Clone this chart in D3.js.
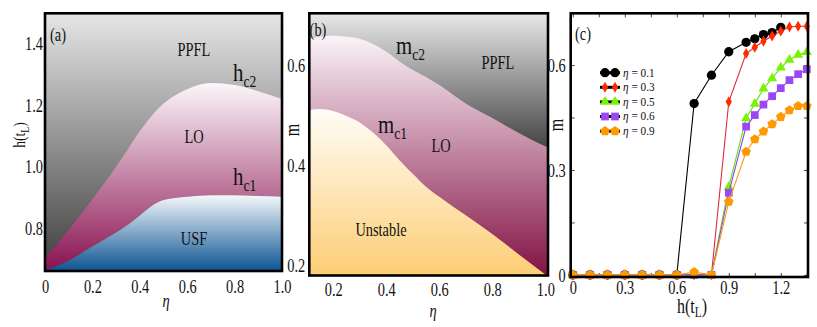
<!DOCTYPE html>
<html>
<head>
<meta charset="utf-8">
<script src="https://d3js.org/d3.v7.min.js"></script>
<style>
  body { margin: 0; background: #fff; }
  svg { display: block; }
</style>
</head>
<body>
<div id="chart"></div>
<script>
// ---- panel (a): phase boundaries h_c1, h_c2 vs eta
var etaA = [0, 0.1, 0.2, 0.3, 0.35, 0.4, 0.45, 0.5, 0.6, 0.7, 0.8, 0.9, 1.0];
var hc1 = [0.664, 0.695, 0.742, 0.787, 0.812, 0.842, 0.873, 0.892, 0.903, 0.908, 0.908, 0.905, 0.903];
var hc2 = [0.705, 0.795, 0.895, 1.0, 1.057, 1.115, 1.165, 1.205, 1.252, 1.272, 1.265, 1.245, 1.22];
var ticksAx = [0, 0.2, 0.4, 0.6, 0.8, 1.0];
var ticksAy = [0.8, 1.0, 1.2, 1.4];

// ---- panel (b): m_c1, m_c2 vs eta
var etaB = [0.11, 0.15, 0.2, 0.25, 0.3, 0.35, 0.4, 0.45, 0.5, 0.55, 0.6, 0.7, 0.8, 0.9, 1.0, 1.01];
var mc2 = [0.652, 0.656, 0.658, 0.656, 0.652, 0.642, 0.627, 0.607, 0.59, 0.576, 0.56, 0.523, 0.494, 0.464, 0.438, 0.436];
var mc1 = [0.51, 0.512, 0.508, 0.498, 0.485, 0.465, 0.44, 0.41, 0.383, 0.357, 0.337, 0.30, 0.263, 0.222, 0.182, 0.178];
var ticksBx = [0.2, 0.4, 0.6, 0.8, 1.0];
var ticksBy = [0.2, 0.4, 0.6];

// ---- panel (c): m vs h(t_L)
var hGrid = [0, 0.1, 0.2, 0.3, 0.4, 0.5, 0.6, 0.7, 0.8, 0.9, 1.0, 1.05, 1.1, 1.15, 1.2, 1.25, 1.3, 1.35];
var m01 = [0, 0, 0, 0, 0, 0, 0, 0.49, 0.571, 0.638, 0.665, 0.675, 0.687, 0.693, 0.708];
var m03 = [0, 0, 0, 0, 0, 0, 0, 0, 0, 0.495, 0.633, 0.651, 0.668, 0.683, 0.697, 0.709, 0.711, 0.711];
var m05 = [0, 0, 0, 0, 0, 0, 0, 0, 0, 0.252, 0.448, 0.489, 0.533, 0.562, 0.593, 0.615, 0.629, 0.637];
var m06 = [0, 0, 0, 0, 0, 0, 0, 0, 0, 0.235, 0.424, 0.457, 0.487, 0.511, 0.534, 0.557, 0.574, 0.588];
var m09 = [0, 0, 0, 0, 0, 0, 0, 0.008, 0, 0.209, 0.352, 0.388, 0.41, 0.431, 0.452, 0.471, 0.483, 0.483];
var seriesNames = ["\u03b7 = 0.1", "\u03b7 = 0.3", "\u03b7 = 0.5", "\u03b7 = 0.6", "\u03b7 = 0.9"];
var ticksCx = [0, 0.3, 0.6, 0.9, 1.2];
var ticksCy = [0, 0.3, 0.6];

var W = 817, H = 327;
var SERIF = "'Liberation Serif', 'DejaVu Serif', serif";
var SX = 0.8; // the original lettering is narrow

var svg = d3.select('#chart').append('svg').attr('width', W).attr('height', H);
svg.append('rect').attr('width', W).attr('height', H).attr('fill', '#fff');
var defs = svg.append('defs');

function vGrad(id, c0, c1, y0, y1) {
   var g = defs.append('linearGradient').attr('id', id)
      .attr('x1', 0).attr('x2', 0);
   if (y0 === undefined) {
      g.attr('y1', 0).attr('y2', 1);
   } else {
      g.attr('gradientUnits', 'userSpaceOnUse').attr('y1', y0).attr('y2', y1);
   }
   g.append('stop').attr('offset', 0).attr('stop-color', c0);
   g.append('stop').attr('offset', 1).attr('stop-color', c1);
}

function clip(id, x, y) {
   defs.append('clipPath').attr('id', id).append('rect')
      .attr('x', x.range()[0]).attr('y', y.range()[1])
      .attr('width', x.range()[1] - x.range()[0])
      .attr('height', y.range()[0] - y.range()[1]);
}

function frame(x, y) {
   svg.append('rect')
      .attr('x', x.range()[0]).attr('y', y.range()[1])
      .attr('width', x.range()[1] - x.range()[0])
      .attr('height', y.range()[0] - y.range()[1])
      .attr('fill', 'none').attr('stroke', '#000').attr('stroke-width', 2.6);
}

// text with optional subscript, narrowed like the original
function label(x, y, main, sub, size, subSize, anchor, rotate) {
   var t = svg.append('text')
      .attr('transform', 'translate(' + x + ',' + y + ')' + (rotate ? ' rotate(-90)' : '') + ' scale(' + SX + ',1)')
      .attr('font-family', SERIF).attr('font-size', size)
      .attr('text-anchor', anchor || 'start').attr('fill', '#111');
   t.append('tspan').text(main);
   if (sub) {
      t.append('tspan').attr('font-size', subSize).attr('dy', size * 0.22).text(sub);
   }
   return t;
}

function styleTicks(g, xOff, yOff, dy, size) {
   g.select('.domain').remove();
   g.selectAll('text')
      .attr('font-family', SERIF).attr('font-size', size || 18).attr('fill', '#111')
      .attr('x', xOff / SX).attr('y', yOff).attr('dy', dy)
      .attr('transform', 'scale(' + SX + ',1)');
}

var fmt = function (d) { return d === 0 ? '0' : d3.format('.1f')(d); };

/* ================= panel (a) ================= */
var xa = d3.scaleLinear().domain([0, 1]).range([45, 282]);
var ya = d3.scaleLinear().domain([0.662, 1.498]).range([271, 13.3]);
vGrad('aGray', '#e6e6e6', '#3e3e3e', 13, 271);
vGrad('aLO', '#fcf6fa', '#8a1250');
vGrad('aUSF', '#f4f8fb', '#0b5492');
clip('clipA', xa, ya);

var gA = svg.append('g').attr('clip-path', 'url(#clipA)');
gA.append('rect').attr('x', 45).attr('y', 13.3).attr('width', 237).attr('height', 258).attr('fill', 'url(#aGray)');
gA.append('path').datum(etaA)
   .attr('d', d3.area().curve(d3.curveMonotoneX)
      .x(function (d) { return xa(d); })
      .y0(function (d, i) { return ya(hc1[i]); })
      .y1(function (d, i) { return ya(hc2[i]); }))
   .attr('fill', 'url(#aLO)');
gA.append('path').datum(etaA)
   .attr('d', d3.area().curve(d3.curveMonotoneX)
      .x(function (d) { return xa(d); })
      .y0(ya.range()[0])
      .y1(function (d, i) { return ya(hc1[i]); }))
   .attr('fill', 'url(#aUSF)');

styleTicks(svg.append('g').attr('transform', 'translate(0,271)')
   .call(d3.axisBottom(xa).tickValues(ticksAx).tickFormat(fmt).tickSize(0)), 0, 22, 0);
styleTicks(svg.append('g').attr('transform', 'translate(45,0)')
   .call(d3.axisLeft(ya).tickValues(ticksAy).tickFormat(d3.format('.1f')).tickSize(0)), -2, 0, '0.34em');
frame(xa, ya);

label(58, 41, '(a)', null, 18, 0, 'middle');
label(194, 56, 'PPFL', null, 18, 0, 'middle');
label(194, 143, 'LO', null, 18, 0, 'middle');
label(194, 245, 'USF', null, 18, 0, 'middle');
label(233, 81, 'h', 'c2', 26, 17);
label(233, 185, 'h', 'c1', 26, 17);
label(166, 307, '\u03b7', null, 18, 0, 'middle').attr('font-style', 'italic');
label(25, 135, 'h(t', 'L', 17, 12, 'middle', true).append('tspan').attr('dy', -17 * 0.22).text(')');

/* ================= panel (b) ================= */
var xb = d3.scaleLinear().domain([0.11, 1.01]).range([309.3, 548]);
var yb = d3.scaleLinear().domain([0.18, 0.703]).range([275.5, 13.3]);
vGrad('bGray', '#e9e9e9', '#444', 13, 148);
vGrad('bLO', '#fbf3f8', '#831245');
vGrad('bUn', '#fffdf8', '#fdcd74');
clip('clipB', xb, yb);

var gB = svg.append('g').attr('clip-path', 'url(#clipB)');
gB.append('rect').attr('x', 309.3).attr('y', 13.3).attr('width', 239).attr('height', 263).attr('fill', 'url(#bGray)');
gB.append('path').datum(etaB)
   .attr('d', d3.area().curve(d3.curveMonotoneX)
      .x(function (d) { return xb(d); })
      .y0(yb.range()[0])
      .y1(function (d, i) { return yb(mc2[i]); }))
   .attr('fill', 'url(#bLO)');
gB.append('path').datum(etaB)
   .attr('d', d3.area().curve(d3.curveMonotoneX)
      .x(function (d) { return xb(d); })
      .y0(yb.range()[0])
      .y1(function (d, i) { return yb(mc1[i]); }))
   .attr('fill', 'url(#bUn)');

styleTicks(svg.append('g').attr('transform', 'translate(0,275.5)')
   .call(d3.axisBottom(xb).tickValues(ticksBx).tickFormat(d3.format('.1f')).tickSize(0)), 0, 21, 0);
styleTicks(svg.append('g').attr('transform', 'translate(309.3,0)')
   .call(d3.axisLeft(yb).tickValues(ticksBy).tickFormat(d3.format('.1f')).tickSize(0)), -4, 0, '0.34em');
frame(xb, yb);

label(318, 36, '(b)', null, 18, 0, 'middle');
label(498, 69, 'PPFL', null, 18, 0, 'middle');
label(441, 152, 'LO', null, 18, 0, 'middle');
label(381, 236, 'Unstable', null, 18, 0, 'middle');
label(396, 54, 'm', 'c2', 26, 17);
label(378, 133, 'm', 'c1', 26, 17);
label(433, 317, '\u03b7', null, 18, 0, 'middle').attr('font-style', 'italic');
label(299, 130, 'm', null, 20, 0, 'middle', true);

/* ================= panel (c) ================= */
var xc = d3.scaleLinear().domain([-0.012, 1.357]).range([570.7, 808]);
var yc = d3.scaleLinear().domain([-0.006, 0.748]).range([277, 13.3]);
var minorX = d3.range(0, 1.36, 0.15);
var minorY = d3.range(0, 0.75, 0.15);

svg.append('g').attr('transform', 'translate(0,13.3)')
   .call(d3.axisTop(xc).tickValues(minorX).tickSize(-4).tickFormat(''))
   .call(function (g) { g.select('.domain').remove(); });
svg.append('g').attr('transform', 'translate(808,0)')
   .call(d3.axisRight(yc).tickValues(minorY).tickSize(-4).tickFormat(''))
   .call(function (g) { g.select('.domain').remove(); });
styleTicks(svg.append('g').attr('transform', 'translate(0,277)')
   .call(d3.axisBottom(xc).tickValues(minorX).tickSize(-4)
      .tickFormat(function (d) { return ticksCx.some(function (t) { return Math.abs(t - d) < 1e-6; }) ? fmt(Math.round(d * 10) / 10) : ''; })), 0, 17, 0);
styleTicks(svg.append('g').attr('transform', 'translate(570.7,0)')
   .call(d3.axisLeft(yc).tickValues(minorY).tickSize(-4)
      .tickFormat(function (d) { return ticksCy.some(function (t) { return Math.abs(t - d) < 1e-6; }) ? fmt(Math.round(d * 10) / 10) : ''; })), -5, 0, '0.34em');
svg.selectAll('.tick line').attr('stroke', '#444');

var symbolPentagon = {
   draw: function (ctx, size) {
      var r = Math.sqrt(size / (2.5 * Math.sin(2 * Math.PI / 5)));
      for (var i = 0; i < 5; i++) {
         var a = -Math.PI / 2 + i * 2 * Math.PI / 5;
         if (i === 0) ctx.moveTo(r * Math.cos(a), r * Math.sin(a));
         else ctx.lineTo(r * Math.cos(a), r * Math.sin(a));
      }
      ctx.closePath();
   }
};

var series = [
   { values: m01, line: '#000', fill: '#000', sym: d3.symbolCircle, size: 68 },
   { values: m03, line: '#dc2a3a', fill: '#ff2a00', sym: d3.symbolDiamond, size: 34 },
   { values: m05, line: '#5fe01a', fill: '#77f400', sym: d3.symbolTriangle, size: 44 },
   { values: m06, line: '#8f45ee', fill: '#9c46f6', sym: d3.symbolSquare, size: 60 },
   { values: m09, line: '#ff9a10', fill: '#ff9900', sym: symbolPentagon, size: 60 }
];

var gC = svg.append('g');
var line = d3.line()
   .x(function (d, i) { return xc(hGrid[i]); })
   .y(function (d) { return yc(d); });
series.forEach(function (s) {
   gC.append('path').datum(s.values).attr('d', line)
      .attr('fill', 'none').attr('stroke', s.line).attr('stroke-width', 1.1);
   gC.selectAll(null).data(s.values).enter().append('path')
      .attr('transform', function (d, i) { return 'translate(' + xc(hGrid[i]) + ',' + yc(d) + ')'; })
      .attr('d', d3.symbol().type(s.sym).size(s.size))
      .attr('fill', s.fill);
});

// legend
var lg = svg.append('g');
series.forEach(function (s, i) {
   var y = 72.7 + i * 14.6;
   lg.append('line').attr('x1', 600).attr('x2', 620).attr('y1', y).attr('y2', y)
      .attr('stroke', '#000').attr('stroke-width', 3);
   [605, 615].forEach(function (x) {
      lg.append('path').attr('transform', 'translate(' + x + ',' + y + ')')
         .attr('d', d3.symbol().type(s.sym).size(s.size)).attr('fill', s.fill);
   });
   var t = lg.append('text').attr('x', 623 / 0.9).attr('y', y + 4)
      .attr('transform', 'scale(0.9,1)')
      .attr('font-family', SERIF).attr('font-size', 12.5).attr('fill', '#111');
   t.append('tspan').attr('font-style', 'italic').text(seriesNames[i].slice(0, 1));
   t.append('tspan').text(seriesNames[i].slice(1));
});

frame(xc, yc);
label(583, 40, '(c)', null, 18, 0, 'middle');
label(692, 313, 'h(t', 'L', 20, 14, 'middle').append('tspan').attr('dy', -20 * 0.22).text(')');
label(563, 125, 'm', null, 20, 0, 'middle', true);
</script>
</body>
</html>
